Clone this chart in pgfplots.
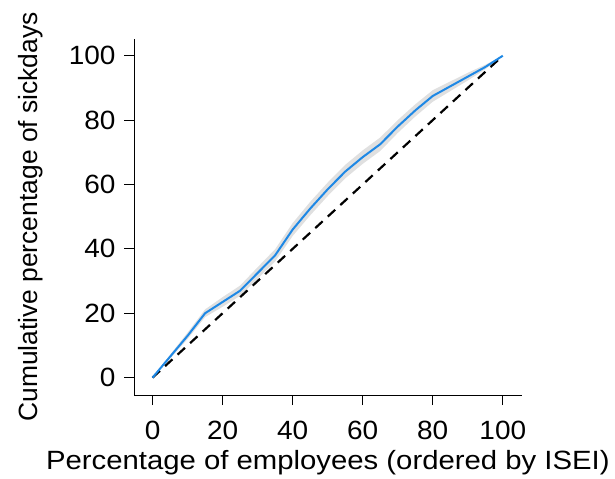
\documentclass[border=0pt]{standalone}
\usepackage{fontspec}
\setmainfont{Liberation Sans}
\usepackage{graphicx}
\usepackage{pgfplots}
\usepgfplotslibrary{fillbetween}
\pgfplotsset{compat=1.18}
\definecolor{lineblue}{RGB}{30,136,229}
\definecolor{bandgray}{RGB}{224,224,224}
\begin{document}
\begin{tikzpicture}
\begin{axis}[
  scale only axis,
  width=387.7bp, height=356bp,
  xmin=-5.3, xmax=105.4, ymin=-5.4, ymax=105.2,
  axis x line*=bottom, axis y line*=left,
  axis line style={line width=1bp, -},
  xtick={0,20,...,100}, ytick={0,20,...,100},
  tick align=outside, major tick length=10bp,
  tick style={line width=1bp, black},
  xticklabel={\scalebox{1.06}[1]{\pgfmathprintnumber[assume math mode=true]{\tick}}},
  yticklabel={\scalebox{1.06}[1]{\pgfmathprintnumber[assume math mode=true]{\tick}}},
  ticklabel style={font=\fontsize{26.5}{30}\selectfont},
  xticklabel style={yshift=-13bp},
  yticklabel style={xshift=-5bp},
  label style={font=\fontsize{26.5}{30}\selectfont},
  xlabel={\scalebox{1.11}[1]{Percentage of employees (ordered by ISEI)}},
  ylabel={Cumulative percentage of sickdays},
  xlabel style={at={(axis description cs:0.5,-0.2079)}, anchor=base},
  ylabel style={at={(axis description cs:-0.2484,0.5)}, anchor=base},
  clip=false,
]
\addplot[name path=up, draw=none, forget plot] coordinates {
(0,0) (5,7.1) (10,14.0) (15,21.2) (20,25.0) (25,28.6) (30,34.3) (35,39.9) (40,48.0) (45,54.6) (50,60.6) (55,66.1) (60,70.6) (65,74.6) (70,80.0) (75,84.9) (80,89.3) (85,92.0) (90,94.7) (95,97.2) (100,100)};
\addplot[name path=lo, draw=none, forget plot] coordinates {
(0,0) (5,5.9) (10,12.0) (15,18.8) (20,22.0) (25,25.4) (30,30.7) (35,36.1) (40,44.0) (45,50.4) (50,56.4) (55,61.9) (60,66.4) (65,70.4) (70,76.0) (75,81.1) (80,85.7) (85,89.0) (90,92.3) (95,95.8) (100,100)};
\addplot[bandgray, forget plot] fill between[of=up and lo];
\addplot[black, line width=2.2bp, dash pattern=on 10bp off 7bp] coordinates {(0,0) (100,100)};
\addplot[lineblue, line width=2bp] coordinates {
(0,0) (5,6.5) (10,13) (15,20) (20,23.5) (25,27) (30,32.5) (35,38) (40,46) (45,52.5) (50,58.5) (55,64) (60,68.5) (65,72.5) (70,78) (75,83) (80,87.5) (85,90.5) (90,93.5) (95,96.5) (100,100)};
\end{axis}
\path (current axis.south west) ++(-134bp,-84bp) coordinate (bbsw);
\path (current axis.north east) ++(93.3bp,39bp) coordinate (bbne);
\useasboundingbox (bbsw) rectangle (bbne);
\end{tikzpicture}
\end{document}
